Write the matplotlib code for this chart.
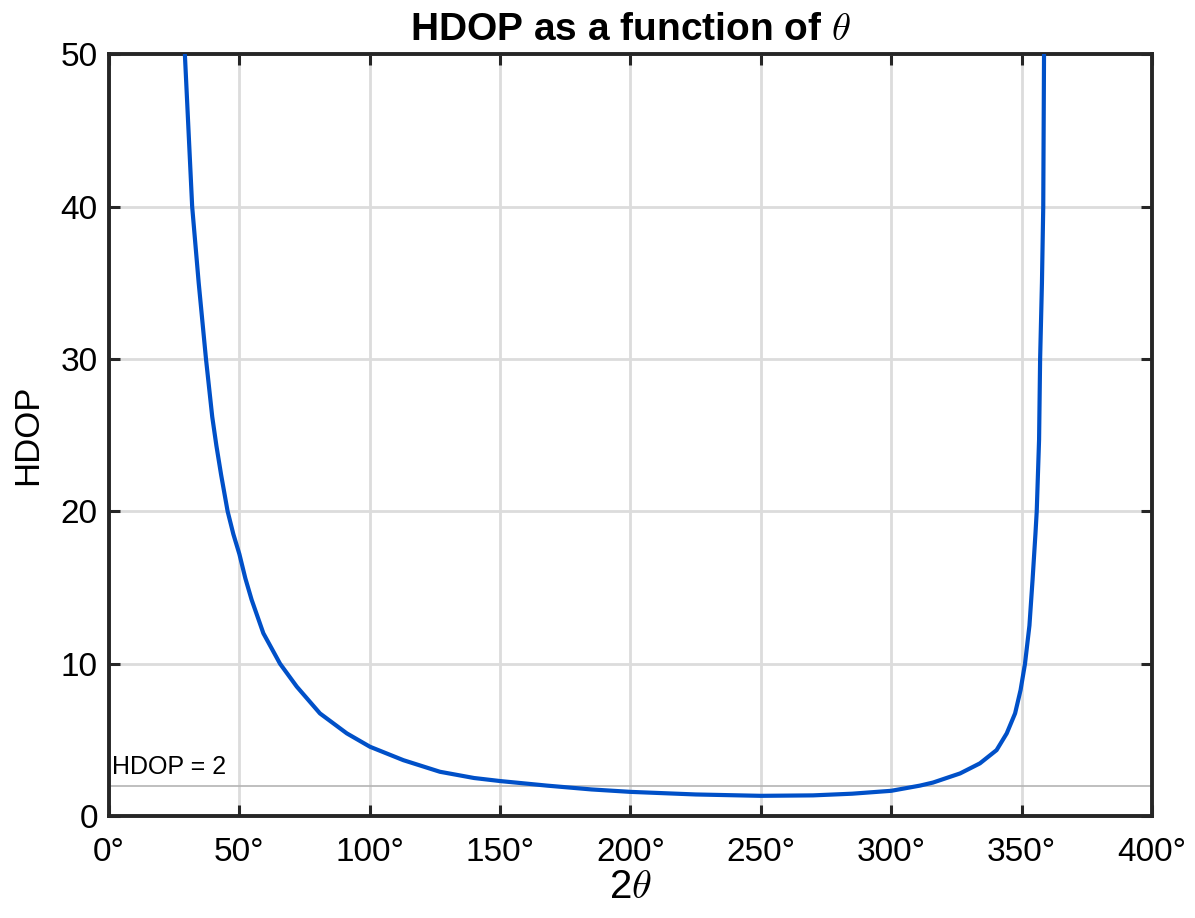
import matplotlib
matplotlib.use("Agg")
import matplotlib.pyplot as plt
from matplotlib.ticker import FuncFormatter

# values (2*theta in degrees, HDOP)
two_theta = [29.1, 30.5, 31.9, 34.4, 37.2, 39.6, 41.2, 43.0, 45.5, 47.7,
             50.0, 52.3, 54.7, 59.2, 65.6, 72.0, 80.9, 91.2, 100.1,
             112.9, 126.9, 140.0, 150.0, 168.0, 185.0, 200.0, 225.0,
             250.0, 270.0, 285.0, 300.0, 311.0, 316.0, 326.4, 334.0,
             340.4, 344.3, 347.5, 349.6, 351.3, 353.0, 354.2, 355.3,
             355.8, 356.7, 357.1, 357.8, 358.3, 358.6]
hdop = [50.0, 45.0, 40.0, 35.0, 30.0, 26.2, 24.3, 22.4, 20.0, 18.5,
        17.2, 15.6, 14.2, 12.0, 10.0, 8.5, 6.74, 5.43, 4.55,
        3.67, 2.91, 2.5, 2.3, 2.0, 1.75, 1.59, 1.42,
        1.33, 1.36, 1.47, 1.66, 2.0, 2.2, 2.8, 3.46,
        4.33, 5.43, 6.74, 8.27, 10.0, 12.5, 15.5, 18.5,
        20.0, 24.7, 30.0, 35.0, 40.0, 50.0]

x_ticks = [0, 50, 100, 150, 200, 250, 300, 350, 400]
y_ticks = [0, 10, 20, 30, 40, 50]
threshold = 2

plt.rcParams['font.family'] = ['Liberation Sans', 'DejaVu Sans']
plt.rcParams['mathtext.fontset'] = 'cm'

fig = plt.figure(figsize=(11.95, 9.18), dpi=100)
ax = fig.add_axes([0.0912, 0.111, 0.8728, 0.830])

ax.plot(two_theta, hdop, color='#0050C8', linewidth=3.0, zorder=3,
        solid_joinstyle='round')
ax.axhline(threshold, color='#b4b4b4', linewidth=1.2, zorder=2)
ax.text(1.3, threshold + 0.75, 'HDOP = %d' % threshold, fontsize=18, color='black')

ax.set_xlim(0, 400)
ax.set_ylim(0, 50)
ax.set_xticks(x_ticks)
ax.set_yticks(y_ticks)
ax.xaxis.set_major_formatter(FuncFormatter(lambda v, p: '%d°' % v))

ax.grid(True, color='#dcdcdc', linewidth=2.0, zorder=0)
ax.tick_params(direction='in', length=8, width=2.2, color='#262626',
               labelsize=24, top=True, right=True, pad=8)
ax.tick_params(axis='x', pad=15)
for s in ax.spines.values():
    s.set_linewidth(2.8)
    s.set_color('#262626')

ax.set_title(r'HDOP as a function of $\theta$', fontsize=28, fontweight='bold', pad=10)
ax.set_xlabel(r'2$\theta$', fontsize=29)
ax.xaxis.set_label_coords(0.5, -0.068)
ax.set_ylabel('HDOP', fontsize=25, labelpad=12)

fig.savefig('out.png', dpi=100)
